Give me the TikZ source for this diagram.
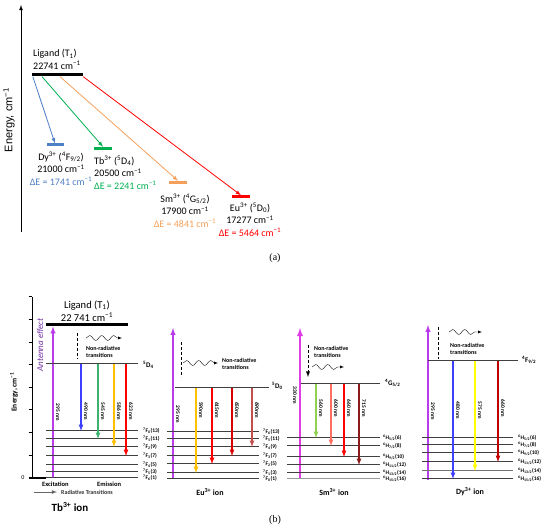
\documentclass[tikz,border=0pt]{standalone}
\usepackage{fontspec}
\setmainfont{Carlito}
\newfontfamily\arialfont{Liberation Sans}
\newfontfamily\serifface{Liberation Serif}
\usetikzlibrary{calc,decorations.pathmorphing}

\definecolor{dyblue}{HTML}{4F7FC4}
\definecolor{tbgreen}{HTML}{00B050}
\definecolor{smorange}{HTML}{F5A05A}
\definecolor{eured}{HTML}{FF0000}
\definecolor{excol}{HTML}{B93BEB}
\definecolor{smexc}{HTML}{E03CE6}
\definecolor{antpurple}{HTML}{7030A0}
\definecolor{emblue}{HTML}{3F3FFF}
\definecolor{emgreen}{HTML}{3CB371}
\definecolor{emgold}{HTML}{FFC000}
\definecolor{emdkred}{HTML}{C0504D}
\definecolor{smgreen}{HTML}{92D050}
\definecolor{smsalmon}{HTML}{FF6F61}
\definecolor{smmaroon}{HTML}{8B1A1A}
\definecolor{dyyellow}{HTML}{FFFF00}
\definecolor{dyred}{HTML}{C00000}

\newcommand{\cmi}{cm\textsuperscript{−1}}

\begin{document}
\begin{tikzpicture}[x=1pt,y=-1pt,>=latex,
    ebar/.style={rectangle,inner sep=0pt,minimum height=3pt},
    etxt/.style={font=\fontsize{10}{12.5}\selectfont,inner sep=0pt},
    lvl/.style={line width=1pt,black!75},
    emit/.style={->,line width=1.2pt},
    excite/.style={->,excol,line width=1.4pt},
    nmtxt/.style={font=\fontsize{5.5}{6}\selectfont\bfseries,rotate=-90,inner sep=0pt},
    lvltxt/.style={font=\fontsize{5.5}{6}\selectfont\bfseries,anchor=west,inner sep=0pt},
    statetxt/.style={font=\fontsize{7}{8}\selectfont\bfseries,anchor=west,inner sep=0pt},
    nrtxt/.style={font=\fontsize{6}{7.5}\selectfont\bfseries,align=left,anchor=west,inner sep=0pt},
    wave/.style={->,decorate,decoration={snake,amplitude=2.5pt,segment length=12pt,post length=3pt}},
    nrdash/.style={densely dashed,line width=0.9pt},
    iontxt/.style={font=\fontsize{8}{9}\selectfont\bfseries}]
  \useasboundingbox (0,0) rectangle (550,532);

  % ---------- (a) ----------
  \coordinate (ybot) at (21,232);
  \coordinate (ytop) at (21,5);
  \draw[->,line width=0.8pt] (ybot) -- (ytop);
  \node[rotate=90,font=\arialfont\fontsize{11}{12}\selectfont] (ylab) at (9,120) {Energy, \cmi};

  \node[ebar,fill=black,minimum width=51] (lig) at (57.5,75) {};
  \node[etxt,align=left,anchor=west] (ligtxt) at (33,59.5) {Ligand (T\textsubscript{1})\\22741 \cmi};

  \node[ebar,fill=dyblue,minimum width=17] (dy) at (55,145) {};
  \node[ebar,fill=tbgreen,minimum width=18] (tb) at (103,148.5) {};
  \node[ebar,fill=smorange,minimum width=18] (sm) at (178,182.5) {};
  \node[ebar,fill=eured,minimum width=18] (eu) at (241,197) {};

  \draw[->,dyblue,line width=0.8pt] ($(lig.south west)!0.02!(lig.south east)$) -- (dy.north);
  \draw[->,tbgreen,line width=0.8pt] ($(lig.south west)!0.2!(lig.south east)$) -- (tb.north);
  \draw[->,smorange,line width=0.8pt] ($(lig.south west)!0.55!(lig.south east)$) -- (sm.north);
  \draw[->,eured,line width=0.8pt] (lig.south east) -- (eu.north);

  \node[etxt,align=center,anchor=north] (dytxt) at (61,152)
    {Dy\textsuperscript{3+} (\textsuperscript{4}F\textsubscript{9/2})\\21000 \cmi\\\textcolor{dyblue}{ΔE = 1741 \cmi}};
  \node[etxt,align=left,anchor=north west] (tbtxt) at (94,156)
    {Tb\textsuperscript{3+} (\textsuperscript{5}D\textsubscript{4})\\20500 \cmi\\\textcolor{tbgreen}{ΔE = 2241 \cmi}};
  \node[etxt,align=center,anchor=north] (smtxt) at (185,194)
    {Sm\textsuperscript{3+} (\textsuperscript{4}G\textsubscript{5/2})\\17900 \cmi\\\textcolor{smorange}{ΔE = 4841 \cmi}};
  \node[etxt,align=center,anchor=north] (eutxt) at (250,203)
    {Eu\textsuperscript{3+} (\textsuperscript{5}D\textsubscript{0})\\17277 \cmi\\\textcolor{eured}{ΔE = 5464 \cmi}};

  \node[font=\serifface\fontsize{10}{12}\selectfont] (capa) at (275,258) {(a)};

  % ---------- (b) Tb ----------
  \draw[line width=1pt] (32,297) -- (32,478);
  \foreach \k in {0,...,7}
    \draw[line width=1pt] (28.5,297+22.6*\k) -- (32,297+22.6*\k);
  \draw[line width=1.2pt] (28.5,478) -- (46,478);
  \node[font=\fontsize{6}{7}\selectfont] (zero) at (23,478) {0};
  \node[rotate=90,font=\fontsize{7.5}{8}\selectfont\bfseries] (elab) at (14,392) {Energy, \cmi};
  \node[rotate=90,font=\fontsize{9}{10}\selectfont\itshape,text=antpurple] (ant) at (40,345) {Antenna effect};

  \draw[line width=3pt] (46,325) -- (128,325);
  \node[font=\fontsize{10.5}{13}\selectfont,align=center] (ligB) at (87,311) {Ligand (T\textsubscript{1})\\22 741 \cmi};
  \draw[excite] (53,478) -- (53,326.5);
  \node[nmtxt] (tbx) at (58,412) {295 nm};
  \draw[nrdash] (77,333) -- (77,359);
  \draw[wave] (86,338) -- (122,338);
  \node[nrtxt] (tbnr) at (86,352) {Non-radiative\\transitions};
  \draw[lvl] (46,364) -- (138,364);
  \node[statetxt] (tbD) at (143,365) {\textsuperscript{5}D\textsubscript{4}};
  \foreach \y/\J/\n in {431/0/13,439/1/11,447/2/9,456/3/7,465/4/5,472/5/3,478/6/1} {
    \draw[lvl] (46,\y) -- (138,\y);
    \node[lvltxt] (tbF\J) at (143,\y) {\textsuperscript{7}F\textsubscript{\J}(\n)};
  }
  \draw[emit,emblue] (81,364) -- (81,431);
  \draw[emit,emgreen] (98,364) -- (98,439);
  \draw[emit,emgold] (114,364) -- (114,447);
  \draw[emit,eured] (126,364) -- (126,456);
  \node[nmtxt] (tb1) at (86,411) {490 nm};
  \node[nmtxt] (tb2) at (103,411) {545 nm};
  \node[nmtxt] (tb3) at (119,411) {586 nm};
  \node[nmtxt] (tb4) at (131,411) {623 nm};
  \node[font=\fontsize{6.5}{7}\selectfont\bfseries,anchor=west,inner sep=0pt] (excl) at (42,484) {Excitation};
  \node[font=\fontsize{6.5}{7}\selectfont\bfseries,anchor=west,inner sep=0pt] (emil) at (97,484) {Emission};
  \coordinate (rad0) at (34,492);
  \coordinate (rad1) at (57,492);
  \draw[->,black!60,line width=0.8pt] (rad0) -- (rad1);
  \node[font=\fontsize{6}{7}\selectfont\bfseries,anchor=west,inner sep=0pt,text=black!80] (radl) at (61,492) {Radiative Transitions};
  \node[font=\fontsize{11}{12}\selectfont\bfseries] (tbion) at (70,507) {Tb\textsuperscript{3+} ion};

  % ---------- (b) Eu ----------
  \draw[excite] (173,479) -- (173,328);
  \node[nmtxt] (eux) at (178,414) {295 nm};
  \draw[nrdash] (181,342) -- (181,377);
  \draw[wave] (183,363) -- (218,363);
  \node[nrtxt] (eunr) at (222,364) {Non-radiative\\transitions};
  \draw[lvl] (175,388) -- (269,388);
  \node[statetxt] (euD) at (272,386) {\textsuperscript{5}D\textsubscript{0}};
  \foreach \y/\J/\n in {432/6/13,439/5/11,447/4/9,456/3/7,464/2/5,473/1/3,479/0/1} {
    \draw[lvl] (167,\y) -- (259,\y);
    \node[lvltxt] (euF\J) at (263,\y) {\textsuperscript{7}F\textsubscript{\J}(\n)};
  }
  \draw[emit,emgold] (196,388) -- (196,473);
  \draw[emit,eured] (212,388) -- (212,464);
  \draw[emit,red!85!black] (232,388) -- (232,456);
  \draw[emit,emdkred] (252,388) -- (252,447);
  \node[nmtxt] (eu1) at (201,410) {590nm};
  \node[nmtxt] (eu2) at (217,410) {615nm};
  \node[nmtxt] (eu3) at (237,410) {650nm};
  \node[nmtxt] (eu4) at (257,410) {690nm};
  \node[iontxt] (euion) at (210,492) {Eu\textsuperscript{3+} ion};

  % ---------- (b) Sm ----------
  \draw[->,smexc,line width=1.8pt] (300,479) -- (300,328);
  \node[nmtxt] (smx) at (295,395) {330 nm};
  \draw[nrdash,->] (308,345) -- (308,377);
  \draw[wave] (312,367) -- (344,367);
  \node[nrtxt] (smnr) at (314,352) {Non-radiative\\transitions};
  \draw[lvl] (301,384) -- (380,384);
  \node[statetxt] (smG) at (385,383) {\textsuperscript{4}G\textsubscript{5/2}};
  \foreach \y/\J/\n in {438/5/6,446/7/8,457/9/10,465/11/12,473/13/14} {
    \draw[lvl] (287,\y) -- (380,\y);
    \node[lvltxt] (smH\J) at (383,\y) {\textsuperscript{6}H\textsubscript{\J/2}(\n)};
  }
  \draw[lvl,black!40] (287,479) -- (380,479);
  \node[lvltxt] (smH15) at (383,479) {\textsuperscript{6}H\textsubscript{15/2}(16)};
  \draw[emit,smgreen] (316,384) -- (316,438);
  \draw[emit,smsalmon] (331,384) -- (331,446);
  \draw[emit,eured] (344,384) -- (344,457);
  \draw[emit,smmaroon] (359,384) -- (359,465);
  \node[nmtxt] (sm1) at (321,408) {560 nm};
  \node[nmtxt] (sm2) at (336,408) {600 nm};
  \node[nmtxt] (sm3) at (349,408) {660 nm};
  \node[nmtxt] (sm4) at (364,408) {715 nm};
  \node[iontxt] (smion) at (334,492) {Sm\textsuperscript{3+} ion};

  % ---------- (b) Dy ----------
  \draw[excite] (428,480) -- (428,325);
  \node[nmtxt] (dyx) at (433,411) {295 nm};
  \draw[nrdash] (438,327) -- (438,359);
  \draw[wave] (449,332) -- (482,332);
  \node[nrtxt] (dynr) at (450,349) {Non-radiative\\transitions};
  \draw[lvl] (428,361) -- (518,361);
  \node[statetxt] (dyF) at (522,360) {\textsuperscript{4}F\textsubscript{9/2}};
  \foreach \y/\J/\n in {438/5/6,445/7/8,453/9/10,462/11/12,479/15/16} {
    \draw[lvl] (422,\y) -- (513,\y);
    \node[lvltxt] (dyH\J) at (518,\y) {\textsuperscript{6}H\textsubscript{\J/2}(\n)};
  }
  \draw[lvl,black!55] (422,471) -- (513,471);
  \node[lvltxt] (dyH13) at (518,471) {\textsuperscript{6}H\textsubscript{13/2}(14)};
  \draw[emit,emblue] (453,361) -- (453,479);
  \draw[emit,dyyellow] (475,361) -- (475,471);
  \draw[emit,dyred] (498,361) -- (498,462);
  \node[nmtxt] (dy1) at (458,410) {480 nm};
  \node[nmtxt] (dy2) at (480,410) {575 nm};
  \node[nmtxt] (dy3) at (503,408) {660 nm};
  \node[iontxt] (dyion) at (470,492) {Dy\textsuperscript{3+} ion};

  \node[font=\serifface\fontsize{10}{12}\selectfont] (capb) at (275,520) {(b)};
\end{tikzpicture}
\end{document}
